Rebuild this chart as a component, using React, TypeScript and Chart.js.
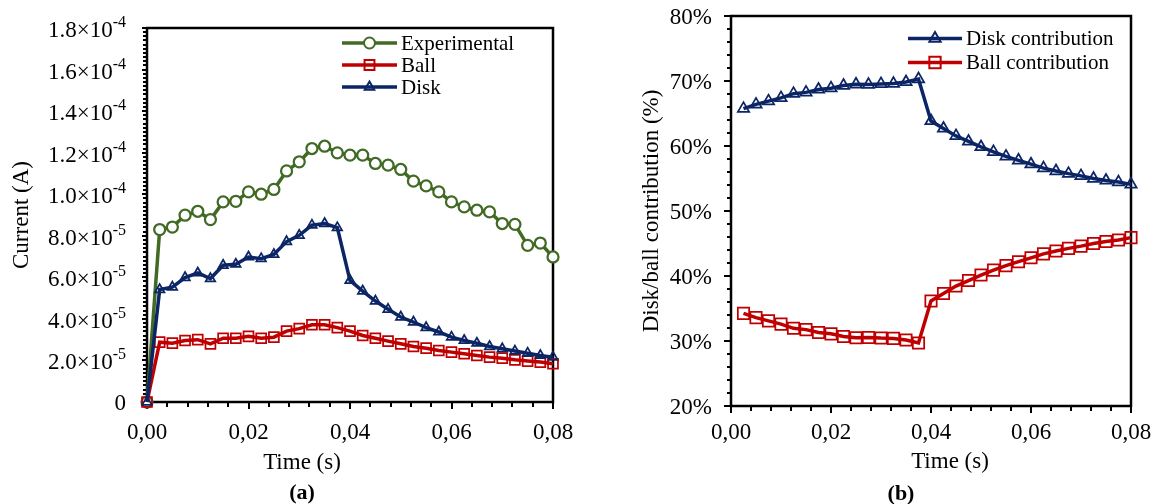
import React, { useEffect, useRef } from 'react';
import { Chart, registerables } from 'chart.js';

Chart.register(...registerables);

// ---------- data (a) ----------
const timeA = [0, 0.0025, 0.005, 0.0075, 0.01, 0.0125, 0.015, 0.0175, 0.02, 0.0225, 0.025, 0.0275, 0.03, 0.0325, 0.035, 0.0375, 0.04, 0.0425, 0.045, 0.0475, 0.05, 0.0525, 0.055, 0.0575, 0.06, 0.0625, 0.065, 0.0675, 0.07, 0.0725, 0.075, 0.0775, 0.08];
const experimental = [0, 8.30e-5, 8.42e-5, 8.99e-5, 9.18e-5, 8.78e-5, 9.63e-5, 9.66e-5, 10.11e-5, 10.00e-5, 10.23e-5, 11.12e-5, 11.56e-5, 12.20e-5, 12.31e-5, 11.99e-5, 11.88e-5, 11.88e-5, 11.48e-5, 11.40e-5, 11.19e-5, 10.63e-5, 10.40e-5, 10.11e-5, 9.63e-5, 9.39e-5, 9.23e-5, 9.15e-5, 8.59e-5, 8.55e-5, 7.54e-5, 7.65e-5, 6.98e-5];
const ball = [0, 2.88e-5, 2.83e-5, 2.96e-5, 3.00e-5, 2.80e-5, 3.07e-5, 3.07e-5, 3.16e-5, 3.07e-5, 3.12e-5, 3.41e-5, 3.53e-5, 3.72e-5, 3.72e-5, 3.58e-5, 3.41e-5, 3.20e-5, 3.07e-5, 2.93e-5, 2.80e-5, 2.67e-5, 2.59e-5, 2.48e-5, 2.40e-5, 2.32e-5, 2.24e-5, 2.16e-5, 2.11e-5, 2.03e-5, 1.97e-5, 1.92e-5, 1.84e-5];
const disk = [0, 5.41e-5, 5.53e-5, 5.99e-5, 6.21e-5, 5.94e-5, 6.58e-5, 6.63e-5, 6.98e-5, 6.90e-5, 7.10e-5, 7.72e-5, 8.02e-5, 8.51e-5, 8.59e-5, 8.39e-5, 5.85e-5, 5.34e-5, 4.86e-5, 4.46e-5, 4.09e-5, 3.85e-5, 3.58e-5, 3.37e-5, 3.12e-5, 2.96e-5, 2.83e-5, 2.67e-5, 2.56e-5, 2.45e-5, 2.35e-5, 2.24e-5, 2.16e-5];

// ---------- data (b) ----------
const timeB = [0.0025, 0.005, 0.0075, 0.01, 0.0125, 0.015, 0.0175, 0.02, 0.0225, 0.025, 0.0275, 0.03, 0.0325, 0.035, 0.0375, 0.04, 0.0425, 0.045, 0.0475, 0.05, 0.0525, 0.055, 0.0575, 0.06, 0.0625, 0.065, 0.0675, 0.07, 0.0725, 0.075, 0.0775, 0.08];
const diskContribution = [65.75, 66.4, 66.9, 67.4, 68.05, 68.25, 68.7, 68.9, 69.3, 69.5, 69.45, 69.55, 69.6, 69.85, 70.3, 63.85, 62.7, 61.55, 60.7, 59.85, 59.1, 58.4, 57.8, 57.2, 56.6, 56.15, 55.75, 55.4, 55.0, 54.7, 54.45, 54.1];
const ballContribution = [34.25, 33.6, 33.1, 32.6, 31.95, 31.75, 31.3, 31.1, 30.7, 30.5, 30.55, 30.45, 30.4, 30.15, 29.7, 36.15, 37.3, 38.45, 39.3, 40.15, 40.9, 41.6, 42.2, 42.8, 43.4, 43.85, 44.25, 44.6, 45.0, 45.3, 45.55, 45.9];

// ---------- ticks ----------
const xTickValues = [0, 0.02, 0.04, 0.06, 0.08];
const yTickValuesA = [0, 2e-5, 4e-5, 6e-5, 8e-5, 1e-4, 1.2e-4, 1.4e-4, 1.6e-4, 1.8e-4];
const yTickValuesB = [20, 30, 40, 50, 60, 70, 80];

const GREEN = '#416a25';
const RED = '#c00000';
const BLUE = '#0b2565';
const FONT = '"Liberation Serif", "Times New Roman", serif';

function drawMarker(ctx: CanvasRenderingContext2D, style: string, x: number, y: number, r: number, color: string, fill: string, lw: number) {
  ctx.save();
  ctx.beginPath();
  if (style === 'circle') {
    ctx.arc(x, y, r, 0, Math.PI * 2);
  } else if (style === 'rect') {
    const s = Math.SQRT1_2 * r;
    ctx.rect(x - s, y - s, 2 * s, 2 * s);
  } else {
    let rad = 0;
    const t = (Math.PI * 2) / 3;
    ctx.moveTo(x + Math.sin(rad) * r, y - Math.cos(rad) * r);
    rad += t;
    ctx.lineTo(x + Math.sin(rad) * r, y - Math.cos(rad) * r);
    rad += t;
    ctx.lineTo(x + Math.sin(rad) * r, y - Math.cos(rad) * r);
    ctx.closePath();
  }
  ctx.fillStyle = fill;
  ctx.fill();
  ctx.lineWidth = lw;
  ctx.strokeStyle = color;
  ctx.stroke();
  ctx.restore();
}

type LegendItem = { label: string; color: string; style: string; r: number; fill: string };

type AxisOpts = {
  xMajor: number[];
  xMinorStep: number;
  yMajor: number[];
  yMinorStep: number;
  yLabel: (v: number) => { base: string; exp?: string };
  yLabelGap: number;
  yTitle: string;
  yTitleX: number;
  xTitleX: number;
  xTitleY: number;
  xLabelY: number;
  panel: string;
  panelX: number;
  panelY: number;
  yMajorLen: number;
  yMinorLen: number;
  xMajorLen: number;
  xMinorLen: number;
  legend: LegendItem[];
  legendX0: number;
  legendX1: number;
  legendY: number;
  legendStep: number;
};

function makeAxesPlugin(o: AxisOpts) {
  return {
    id: 'customAxes',
    beforeDatasetsDraw(chart: any) {
      const ctx: CanvasRenderingContext2D = chart.ctx;
      const { left, right, top, bottom } = chart.chartArea;
      const xs = chart.scales.x;
      const ys = chart.scales.y;
      ctx.save();
      ctx.strokeStyle = '#000';
      ctx.lineWidth = 2.5;
      ctx.strokeRect(left, top, right - left, bottom - top);

      // x ticks
      ctx.lineWidth = 2;
      const xMin = xs.min, xMax = xs.max;
      const nx = Math.round((xMax - xMin) / o.xMinorStep);
      ctx.beginPath();
      for (let k = 0; k <= nx; k++) {
        const v = xMin + k * o.xMinorStep;
        const px = Math.round(xs.getPixelForValue(v));
        const major = o.xMajor.some((m) => Math.abs(m - v) < 1e-9);
        ctx.moveTo(px, bottom);
        ctx.lineTo(px, bottom + (major ? o.xMajorLen : o.xMinorLen));
      }
      ctx.stroke();

      // y ticks
      const yMin = ys.min, yMax = ys.max;
      const ny = Math.round((yMax - yMin) / o.yMinorStep);
      ctx.beginPath();
      for (let k = 0; k <= ny; k++) {
        const v = yMin + k * o.yMinorStep;
        const py = Math.round(ys.getPixelForValue(v));
        const major = o.yMajor.some((m) => Math.abs(m - v) < o.yMinorStep * 1e-3);
        ctx.moveTo(left, py);
        ctx.lineTo(left - (major ? o.yMajorLen : o.yMinorLen), py);
      }
      ctx.stroke();

      // x labels
      ctx.fillStyle = '#000';
      ctx.font = `23px ${FONT}`;
      ctx.textAlign = 'center';
      ctx.textBaseline = 'middle';
      for (const v of o.xMajor) {
        ctx.fillText(v.toFixed(2).replace('.', ','), xs.getPixelForValue(v), o.xLabelY);
      }

      // y labels
      for (const v of o.yMajor) {
        const py = ys.getPixelForValue(v);
        const { base, exp } = o.yLabel(v);
        const xEnd = left - o.yLabelGap;
        ctx.textBaseline = 'alphabetic';
        if (exp) {
          ctx.font = `16px ${FONT}`;
          ctx.textAlign = 'right';
          const ew = ctx.measureText(exp).width;
          ctx.fillText(exp, xEnd, py - 1);
          ctx.font = `23px ${FONT}`;
          ctx.fillText(base, xEnd - ew, py + 9);
        } else {
          ctx.font = `23px ${FONT}`;
          ctx.textAlign = 'right';
          ctx.fillText(base, xEnd, py + 8);
        }
      }

      // titles
      ctx.font = `23px ${FONT}`;
      ctx.textAlign = 'center';
      ctx.textBaseline = 'middle';
      ctx.fillText('Time (s)', o.xTitleX, o.xTitleY);
      ctx.save();
      ctx.translate(o.yTitleX, (top + bottom) / 2);
      ctx.rotate(-Math.PI / 2);
      ctx.fillText(o.yTitle, 0, 0);
      ctx.restore();

      ctx.font = `bold 22px ${FONT}`;
      ctx.fillText(o.panel, o.panelX, o.panelY);
      ctx.restore();
    },
    afterDraw(chart: any) {
      const ctx: CanvasRenderingContext2D = chart.ctx;
      ctx.save();
      o.legend.forEach((it, i) => {
        const y = o.legendY + i * o.legendStep;
        ctx.beginPath();
        ctx.strokeStyle = it.color;
        ctx.lineWidth = 3.5;
        ctx.moveTo(o.legendX0, y);
        ctx.lineTo(o.legendX1, y);
        ctx.stroke();
        drawMarker(ctx, it.style, (o.legendX0 + o.legendX1) / 2, y, it.r, it.color, it.fill, 2);
        ctx.fillStyle = '#000';
        ctx.font = `21px ${FONT}`;
        ctx.textAlign = 'left';
        ctx.textBaseline = 'middle';
        ctx.fillText(it.label, o.legendX1 + 4, y + 1);
      });
      ctx.restore();
    },
  };
}

function pts(xs: number[], ys: number[]) {
  return xs.map((x, i) => ({ x, y: ys[i] }));
}

function supLabel(v: number) {
  if (v === 0) return { base: '0' };
  const e = Math.floor(Math.log10(v) + 1e-9);
  const m = v / Math.pow(10, e);
  return { base: `${m.toFixed(1)}×10`, exp: `${e}` };
}

export default function App() {
  const refA = useRef<HTMLCanvasElement>(null);
  const refB = useRef<HTMLCanvasElement>(null);

  useEffect(() => {
    const common = (padding: any) => ({
      responsive: false,
      animation: false as const,
      events: [],
      layout: { padding },
      plugins: { legend: { display: false }, tooltip: { enabled: false } },
    });

    const chartA = new Chart(refA.current!, {
      type: 'line',
      data: {
        datasets: [
          {
            label: 'Disk', data: pts(timeA, disk), borderColor: BLUE, borderWidth: 3.5,
            pointStyle: 'triangle', pointRadius: 5.5, pointBorderWidth: 1.75,
            pointBackgroundColor: 'rgba(0,0,0,0)', pointBorderColor: BLUE, clip: false, order: 1,
          },
          {
            label: 'Ball', data: pts(timeA, ball), borderColor: RED, borderWidth: 3.5,
            pointStyle: 'rect', pointRadius: 7, pointBorderWidth: 1.75,
            pointBackgroundColor: 'rgba(0,0,0,0)', pointBorderColor: RED, clip: false, order: 2,
          },
          {
            label: 'Experimental', data: pts(timeA, experimental), borderColor: GREEN, borderWidth: 3.5,
            pointStyle: 'circle', pointRadius: 5.5, pointBorderWidth: 2.25,
            pointBackgroundColor: '#ffffff', pointBorderColor: GREEN, clip: false, order: 3,
          },
        ],
      },
      options: {
        ...common({ left: 147, right: 23, top: 28, bottom: 102 }),
        scales: {
          x: { type: 'linear', min: 0, max: 0.08, display: false },
          y: { type: 'linear', min: 0, max: 1.8e-4, display: false },
        },
      } as any,
      plugins: [
        makeAxesPlugin({
          xMajor: xTickValues, xMinorStep: 0.004, yMajor: yTickValuesA, yMinorStep: 2e-6,
          yLabel: supLabel, yLabelGap: 21, yTitle: 'Current (A)', yTitleX: 22,
          xTitleX: 302, xTitleY: 463, xLabelY: 433, panel: '(a)', panelX: 302, panelY: 493,
          yMajorLen: 5, yMinorLen: 4, xMajorLen: 7, xMinorLen: 5,
          legend: [
            { label: 'Experimental', color: GREEN, style: 'circle', r: 5.5, fill: '#ffffff' },
            { label: 'Ball', color: RED, style: 'rect', r: 7, fill: 'rgba(0,0,0,0)' },
            { label: 'Disk', color: BLUE, style: 'triangle', r: 5.5, fill: 'rgba(0,0,0,0)' },
          ],
          legendX0: 342, legendX1: 397, legendY: 43, legendStep: 22,
        }) as any,
      ],
    });

    const chartB = new Chart(refB.current!, {
      type: 'line',
      data: {
        datasets: [
          {
            label: 'Disk contribution', data: pts(timeB, diskContribution), borderColor: BLUE, borderWidth: 3.5,
            pointStyle: 'triangle', pointRadius: 6.5, pointBorderWidth: 1.75,
            pointBackgroundColor: 'rgba(0,0,0,0)', pointBorderColor: BLUE, clip: false,
          },
          {
            label: 'Ball contribution', data: pts(timeB, ballContribution), borderColor: RED, borderWidth: 3.5,
            pointStyle: 'rect', pointRadius: 8, pointBorderWidth: 1.75,
            pointBackgroundColor: 'rgba(0,0,0,0)', pointBorderColor: RED, clip: false,
          },
        ],
      },
      options: {
        ...common({ left: 155, right: 22, top: 16, bottom: 98 }),
        scales: {
          x: { type: 'linear', min: 0, max: 0.08, display: false },
          y: { type: 'linear', min: 20, max: 80, display: false },
        },
      } as any,
      plugins: [
        makeAxesPlugin({
          xMajor: xTickValues, xMinorStep: 0.004, yMajor: yTickValuesB, yMinorStep: 2,
          yLabel: (v: number) => ({ base: `${v}%` }), yLabelGap: 19,
          yTitle: 'Disk/ball contribution (%)', yTitleX: 76,
          xTitleX: 374, xTitleY: 462, xLabelY: 433, panel: '(b)', panelX: 325, panelY: 494,
          yMajorLen: 7, yMinorLen: 4, xMajorLen: 7, xMinorLen: 5,
          legend: [
            { label: 'Disk contribution', color: BLUE, style: 'triangle', r: 6.5, fill: 'rgba(0,0,0,0)' },
            { label: 'Ball contribution', color: RED, style: 'rect', r: 8, fill: 'rgba(0,0,0,0)' },
          ],
          legendX0: 332, legendX1: 386, legendY: 38.5, legendStep: 24,
        }) as any,
      ],
    });

    return () => {
      chartA.destroy();
      chartB.destroy();
    };
  }, []);

  return (
    <div style={{ position: 'fixed', left: 0, top: 0, width: 1153, height: 504, background: '#ffffff' }}>
      <canvas ref={refA} width={576} height={504} style={{ position: 'absolute', left: 0, top: 0 }} />
      <canvas ref={refB} width={577} height={504} style={{ position: 'absolute', left: 576, top: 0 }} />
    </div>
  );
}
